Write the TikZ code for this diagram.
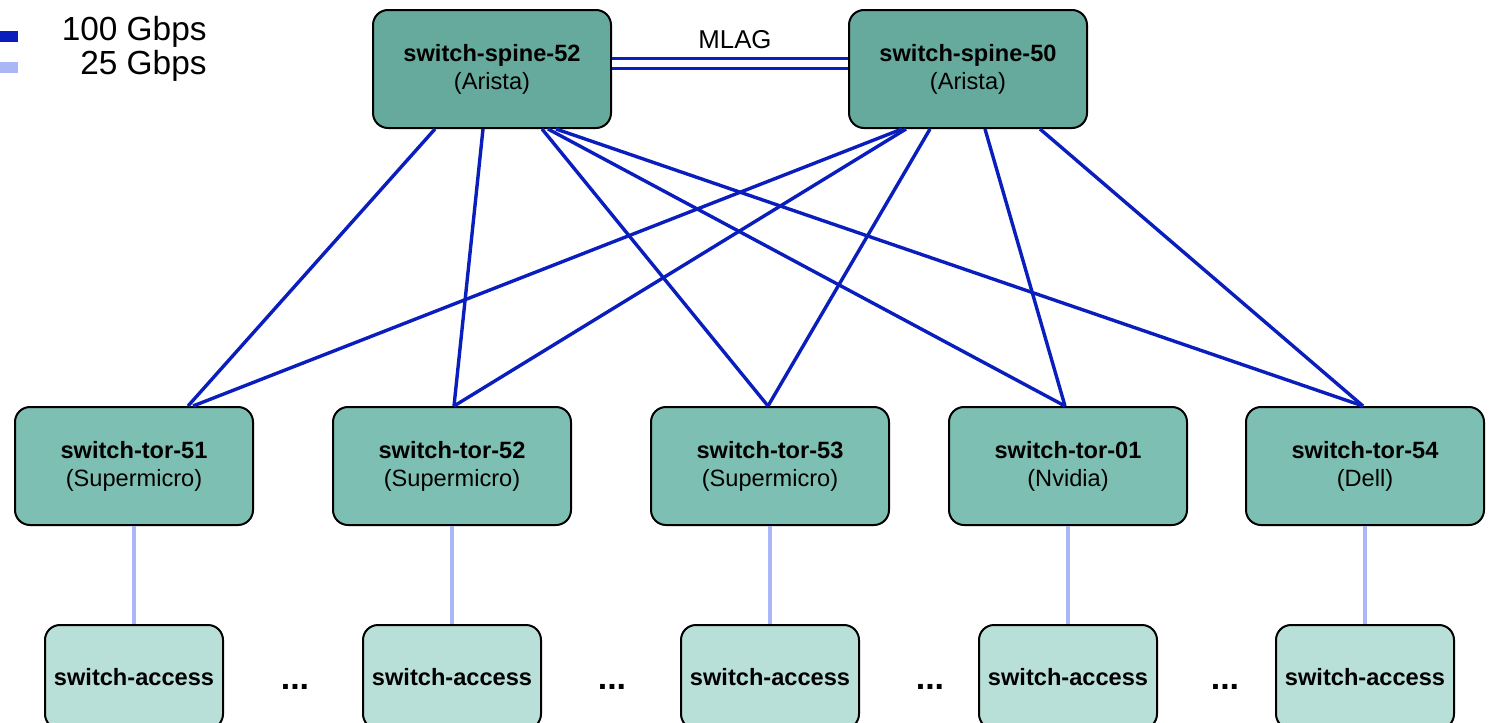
\documentclass[tikz,border=0pt]{standalone}
\usepackage{fontspec}
\setmainfont{Liberation Sans}
\definecolor{spinefill}{RGB}{102,170,158}
\definecolor{torfill}{RGB}{125,192,179}
\definecolor{accfill}{RGB}{184,223,216}
\definecolor{fastblue}{RGB}{10,30,190}
\definecolor{slowblue}{RGB}{170,182,245}
\tikzset{
  sw/.style={draw=black,line width=1pt,rounded corners=7.5pt,inner sep=0pt,align=center,
    font=\fontsize{11.8}{14}\selectfont},
  spine/.style={sw,fill=spinefill,minimum width=119pt,minimum height=59pt},
  tor/.style={sw,fill=torfill,minimum width=119pt,minimum height=59pt},
  access/.style={sw,fill=accfill,minimum width=89pt,minimum height=52pt},
  fast/.style={draw=fastblue,line width=1.7pt},
  slow/.style={draw=slowblue,line width=2pt},
  dots/.style={anchor=base,inner sep=0pt,font=\bfseries\fontsize{17}{20}\selectfont}
}

\begin{document}
\begin{tikzpicture}[x=0.5pt,y=-0.5pt]
\useasboundingbox (0,0) rectangle (1495,723);
\clip (0,0) rectangle (1495,723);
\draw[fast,line width=5.5pt] (-20,36) -- (18,36);
\draw[slow,line width=5.5pt] (-20,67) -- (18,67);
\node[anchor=base east,inner sep=0pt,font=\fontsize{16.7}{20}\selectfont] (leg100) at (207,40) {100 Gbps};
\node[anchor=base east,inner sep=0pt,font=\fontsize{16.7}{20}\selectfont] (leg25) at (207,74) {25 Gbps};
\node[spine] (spine52) at (492,69) {\textbf{switch-spine-52}\\(Arista)};
\node[spine] (spine50) at (968,69) {\textbf{switch-spine-50}\\(Arista)};
\draw[fast,line width=1.5pt,double=white,double distance=3.5pt] ([yshift=3pt]spine52.east) -- ([yshift=3pt]spine50.west);
\node[anchor=base,inner sep=0pt,font=\fontsize{12.9}{15}\selectfont] (mlag) at (735,48) {MLAG};
\node[tor] (tor51) at (134,466) {\textbf{switch-tor-51}\\(Supermicro)};
\node[tor] (tor52) at (452,466) {\textbf{switch-tor-52}\\(Supermicro)};
\node[tor] (tor53) at (770,466) {\textbf{switch-tor-53}\\(Supermicro)};
\node[tor] (tor01) at (1068,466) {\textbf{switch-tor-01}\\(Nvidia)};
\node[tor] (tor54) at (1365,466) {\textbf{switch-tor-54}\\(Dell)};
\foreach \a/\b/\t/\c in {-28.5/27/51/52, -4.5/1/52/52, 25/-1/53/52, 28/-1.5/01/52, 32/-1/54/52,
                         -33/29.5/51/50, -31/1/52/50, -19/-1/53/50, 8.5/-1.5/01/50, 36/-1/54/50}
  \draw[fast] ([xshift=\a pt]spine\c.south) -- ([xshift=\b pt]tor\t.north);
\foreach \t/\x in {51/134, 52/452, 53/770, 01/1068, 54/1365} {
  \node[access] (acc\t) at (\x,677) {\textbf{switch-access}};
  \draw[slow] (tor\t.south) -- (acc\t.north);
}
\node[dots] (dots1) at (295,689) {...};
\node[dots] (dots2) at (612,689) {...};
\node[dots] (dots3) at (930,689) {...};
\node[dots] (dots4) at (1225,689) {...};
\end{tikzpicture}
\end{document}
